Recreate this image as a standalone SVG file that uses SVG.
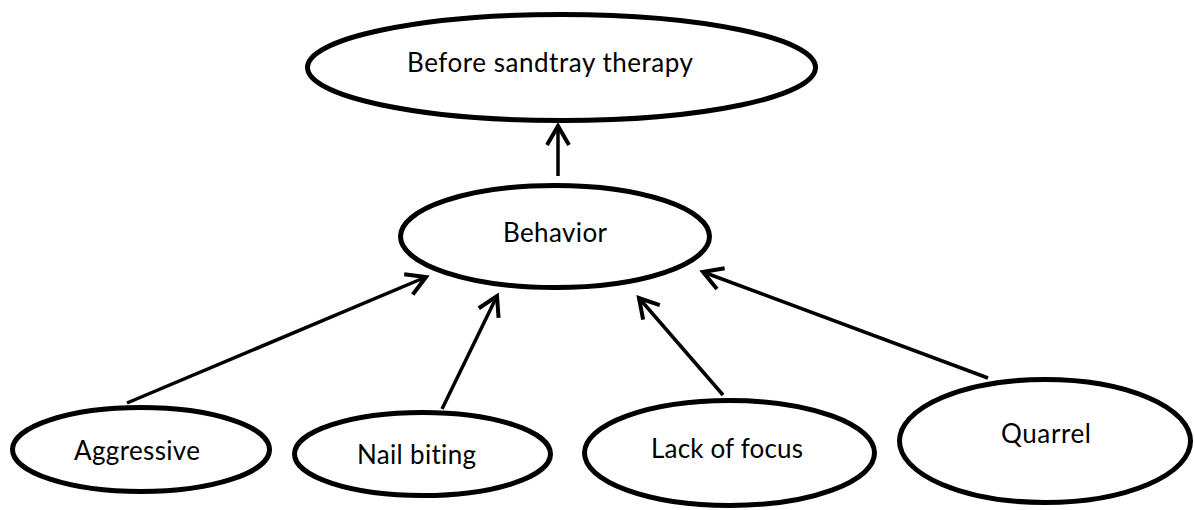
<svg xmlns="http://www.w3.org/2000/svg" width="1195" height="510" viewBox="0 0 1195 510">
  <style>
    .node { fill: #ffffff; stroke: #000000; stroke-width: 5; }
    .label { font-family: Lato, "Open Sans", "Liberation Sans", sans-serif; font-size: 26px; fill: #000000; font-variant-ligatures: none; }
    .conn { stroke: #000000; stroke-width: 3.5; fill: none; marker-end: url(#arrow); }
  </style>
  <defs>
    <marker id="arrow" markerUnits="userSpaceOnUse" markerWidth="40" markerHeight="40" viewBox="-25 -20 40 40" refX="0" refY="0" orient="auto">
      <path d="M-19,-11 L0,0 L-19,11" fill="none" stroke="#000000" stroke-width="4" stroke-linejoin="miter"/>
    </marker>
  </defs>
  <rect width="1195" height="510" fill="#ffffff"/>
  <g id="connectors">
    <line class="conn" x1="558" y1="176" x2="558" y2="126"/>
    <line class="conn" x1="127" y1="403" x2="426" y2="277"/>
    <line class="conn" x1="442" y1="409" x2="497" y2="296"/>
    <line class="conn" x1="723" y1="395" x2="639" y2="298"/>
    <line class="conn" x1="988" y1="378" x2="703" y2="272"/>
  </g>
  <g id="node-before">
    <ellipse class="node" cx="561.5" cy="67.5" rx="254" ry="53"/>
    <text class="label" x="407" y="72" textLength="286">Before sandtray therapy</text>
  </g>
  <g id="node-behavior">
    <ellipse class="node" cx="555" cy="236.5" rx="154.5" ry="51"/>
    <text class="label" x="503" y="242" textLength="104">Behavior</text>
  </g>
  <g id="node-aggressive">
    <ellipse class="node" cx="141" cy="449.5" rx="128.5" ry="42"/>
    <text class="label" x="74" y="460" textLength="126">Aggressive</text>
  </g>
  <g id="node-nailbiting">
    <ellipse class="node" cx="422.5" cy="454" rx="128" ry="41.5"/>
    <text class="label" x="357" y="464" textLength="119">Nail biting</text>
  </g>
  <g id="node-lackoffocus">
    <ellipse class="node" cx="729.5" cy="453" rx="145" ry="52.5"/>
    <text class="label" x="651" y="458" textLength="152">Lack of focus</text>
  </g>
  <g id="node-quarrel">
    <ellipse class="node" cx="1045" cy="441" rx="145.5" ry="61.5"/>
    <text class="label" x="1001" y="443" textLength="90">Quarrel</text>
  </g>
</svg>
